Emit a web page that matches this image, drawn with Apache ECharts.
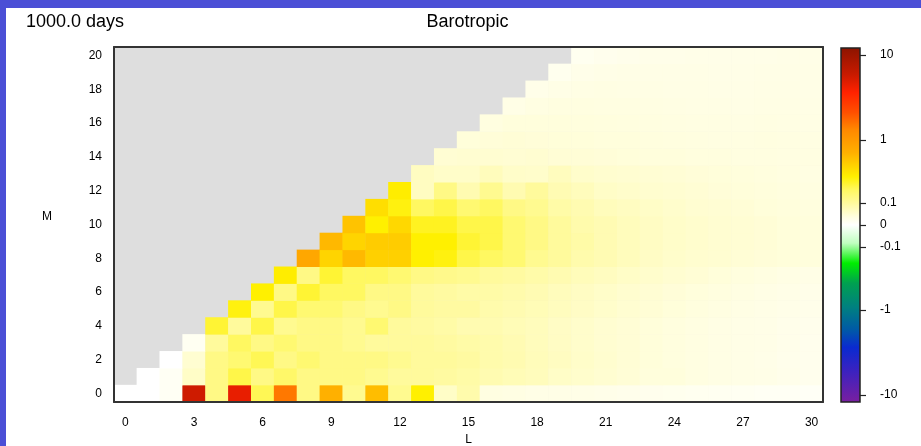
<!DOCTYPE html>
<html>
<head>
<meta charset="utf-8">
<script src="https://cdn.jsdelivr.net/npm/echarts@6/dist/echarts.min.js"></script>
<style>
  html, body { margin: 0; padding: 0; background: #4B4FD6; width: 921px; height: 446px; overflow: hidden; }
  #chart { position: absolute; left: 6px; top: 8px; width: 915px; height: 438px; background: #ffffff; }
</style>
</head>
<body>
<div id="chart"></div>
<script>
// Zonal wavenumber L (columns) and meridional index M (rows)
const lLabels = ['0','1','2','3','4','5','6','7','8','9','10','11','12','13','14','15',
                 '16','17','18','19','20','21','22','23','24','25','26','27','28','29','30'];
const mLabels = ['0','1','2','3','4','5','6','7','8','9','10','11','12','13','14','15',
                 '16','17','18','19','20'];

// Barotropic spectrum: row M lists the values for L = M .. 30 (L < M is undefined)
const barotropicRows = [
  [0, 0, 0.012, 5.5, 0.12, 4.4, 0.17, 1.5, 0.12, 0.62, 0.11, 0.52, 0.11, 0.26, 0.06, 0.085, 0.035, 0.033, 0.03, 0.03, 0.028, 0.026, 0.024, 0.022, 0.02, 0.018, 0.016, 0.015, 0.013, 0.012, 0.01],
  [0, 0.012, 0.06, 0.12, 0.18, 0.12, 0.15, 0.12, 0.12, 0.12, 0.11, 0.1, 0.1, 0.095, 0.09, 0.08, 0.075, 0.07, 0.06, 0.055, 0.05, 0.045, 0.04, 0.04, 0.035, 0.032, 0.03, 0.028, 0.025, 0.022],
  [0, 0.05, 0.12, 0.14, 0.17, 0.12, 0.14, 0.12, 0.12, 0.12, 0.11, 0.1, 0.1, 0.095, 0.085, 0.08, 0.072, 0.065, 0.058, 0.052, 0.046, 0.042, 0.038, 0.035, 0.032, 0.03, 0.027, 0.024, 0.022],
  [0.015, 0.1, 0.16, 0.12, 0.14, 0.12, 0.12, 0.11, 0.1, 0.1, 0.1, 0.095, 0.09, 0.085, 0.078, 0.07, 0.063, 0.056, 0.05, 0.046, 0.042, 0.038, 0.035, 0.032, 0.03, 0.028, 0.025, 0.022],
  [0.2, 0.1, 0.18, 0.11, 0.12, 0.12, 0.11, 0.14, 0.1, 0.095, 0.09, 0.08, 0.08, 0.075, 0.07, 0.062, 0.056, 0.05, 0.046, 0.042, 0.038, 0.035, 0.032, 0.03, 0.028, 0.025, 0.023],
  [0.24, 0.11, 0.18, 0.14, 0.14, 0.12, 0.11, 0.12, 0.1, 0.095, 0.095, 0.085, 0.08, 0.075, 0.068, 0.062, 0.056, 0.05, 0.046, 0.042, 0.038, 0.035, 0.032, 0.03, 0.027, 0.025],
  [0.26, 0.12, 0.2, 0.16, 0.16, 0.12, 0.12, 0.1, 0.095, 0.09, 0.09, 0.085, 0.078, 0.07, 0.064, 0.058, 0.052, 0.048, 0.044, 0.04, 0.037, 0.034, 0.031, 0.028, 0.026],
  [0.27, 0.12, 0.2, 0.16, 0.16, 0.14, 0.12, 0.115, 0.11, 0.1, 0.095, 0.088, 0.08, 0.072, 0.066, 0.06, 0.055, 0.05, 0.046, 0.042, 0.038, 0.035, 0.032, 0.03],
  [0.75, 0.38, 0.55, 0.4, 0.4, 0.26, 0.24, 0.18, 0.16, 0.14, 0.11, 0.1, 0.085, 0.078, 0.07, 0.062, 0.056, 0.052, 0.05, 0.046, 0.044, 0.042, 0.04],
  [0.56, 0.38, 0.42, 0.42, 0.26, 0.26, 0.2, 0.18, 0.14, 0.12, 0.1, 0.09, 0.078, 0.07, 0.064, 0.058, 0.054, 0.05, 0.048, 0.045, 0.042, 0.04],
  [0.48, 0.26, 0.36, 0.22, 0.22, 0.18, 0.18, 0.14, 0.12, 0.1, 0.085, 0.078, 0.07, 0.064, 0.058, 0.054, 0.05, 0.048, 0.045, 0.042, 0.04],
  [0.33, 0.24, 0.16, 0.18, 0.14, 0.16, 0.12, 0.11, 0.09, 0.08, 0.07, 0.065, 0.06, 0.055, 0.05, 0.048, 0.045, 0.042, 0.04, 0.038],
  [0.27, 0.065, 0.12, 0.08, 0.11, 0.08, 0.1, 0.078, 0.07, 0.06, 0.056, 0.052, 0.05, 0.047, 0.044, 0.042, 0.04, 0.038, 0.036],
  [0.065, 0.058, 0.058, 0.07, 0.058, 0.056, 0.068, 0.056, 0.052, 0.05, 0.048, 0.046, 0.044, 0.042, 0.04, 0.038, 0.036, 0.034],
  [0.048, 0.05, 0.05, 0.048, 0.05, 0.046, 0.045, 0.044, 0.042, 0.04, 0.04, 0.038, 0.038, 0.036, 0.036, 0.035, 0.035],
  [0.042, 0.044, 0.045, 0.044, 0.043, 0.042, 0.04, 0.04, 0.038, 0.037, 0.036, 0.035, 0.035, 0.036, 0.035, 0.034],
  [0.036, 0.04, 0.04, 0.04, 0.039, 0.038, 0.037, 0.036, 0.035, 0.034, 0.034, 0.033, 0.034, 0.033, 0.032],
  [0.03, 0.034, 0.036, 0.036, 0.035, 0.035, 0.034, 0.033, 0.032, 0.032, 0.031, 0.032, 0.032, 0.031],
  [0.026, 0.03, 0.032, 0.033, 0.032, 0.032, 0.031, 0.031, 0.03, 0.03, 0.031, 0.031, 0.03],
  [0.02, 0.026, 0.028, 0.029, 0.03, 0.029, 0.029, 0.028, 0.028, 0.029, 0.03, 0.029],
  [0.018, 0.022, 0.024, 0.026, 0.026, 0.027, 0.027, 0.027, 0.027, 0.028, 0.028]
];

// Colour bar ticks
const colorbarTicks = [-10, -1, -0.1, 0, 0.1, 1, 10];
const colorbarTickText = ['-10', '-1', '-0.1', '0', '0.1', '1', '10'];

// Symmetric, piecewise log colour scale: linear inside +-0.1, logarithmic outside
const POS_MAX = 177;
function scalePos(v) {
  const a = Math.abs(v), s = v < 0 ? -1 : 1;
  let d;
  if (a <= 0.1) d = a / 0.1 * 22;
  else if (a <= 1) d = 22 + 63 * Math.log10(a / 0.1);
  else d = 85 + 85 * Math.log10(a);
  return s * Math.min(d, POS_MAX);
}

// Colour ramp on the scaled axis (purple - blue - green - white - yellow - red)
const colourStops = [
  [-177, '#7A1FA0'], [-145, '#3A22C0'], [-122, '#0A2AD0'], [-105, '#0058A8'],
  [-82, '#008080'], [-58, '#00A050'], [-38, '#00EE00'], [-18, '#C0FFC0'],
  [0, '#FFFFFF'], [8, '#FFFEE0'], [22, '#FFFA9C'], [35, '#FFF860'],
  [48, '#FFF000'], [60, '#FFD000'], [72, '#FFB000'], [95, '#FF8800'],
  [112, '#FF5000'], [132, '#FF2200'], [150, '#C81A00'], [177, '#8B1400']
];

function hexToRgb(h) {
  return [parseInt(h.slice(1, 3), 16), parseInt(h.slice(3, 5), 16), parseInt(h.slice(5, 7), 16)];
}
function colourAt(d) {
  for (let i = 0; i < colourStops.length - 1; i++) {
    const [d0, c0] = colourStops[i], [d1, c1] = colourStops[i + 1];
    if (d >= d0 && d <= d1) {
      const t = (d - d0) / (d1 - d0), a = hexToRgb(c0), b = hexToRgb(c1);
      return 'rgb(' + a.map((x, k) => Math.round(x + (b[k] - x) * t)).join(',') + ')';
    }
  }
  return d < 0 ? colourStops[0][1] : colourStops[colourStops.length - 1][1];
}

// Evenly sampled palette for the visualMap
const palette = [];
for (let d = -POS_MAX; d <= POS_MAX; d += 1) palette.push(colourAt(d));

// Heatmap cells: [L, M, scaled value, raw value]
const cells = [];
barotropicRows.forEach((row, m) => {
  row.forEach((v, k) => {
    const l = m + k;
    cells.push([l, m, scalePos(v), v]);
  });
});

const barGradient = new echarts.graphic.LinearGradient(0, 0, 0, 1,
  colourStops.slice().reverse().map(([d, c]) => ({ offset: (POS_MAX - d) / (2 * POS_MAX), color: c })));

const tickPositions = colorbarTicks.map(scalePos);
const FONT = 'Liberation Sans, Arial, Helvetica, sans-serif';
const axisLineStyle = { color: '#333333', width: 2 };

const chart = echarts.init(document.getElementById('chart'), null, { renderer: 'canvas' });
chart.setOption({
  animation: false,
  backgroundColor: '#ffffff',
  textStyle: { fontFamily: FONT, color: '#000' },
  title: [
    { text: '1000.0 days', left: 15, top: 0,
      textStyle: { fontFamily: FONT, fontSize: 18, fontWeight: 'normal', color: '#000' } },
    { text: 'Barotropic', left: 456.5, top: 0, textAlign: 'center',
      textStyle: { fontFamily: FONT, fontSize: 18, fontWeight: 'normal', color: '#000' } }
  ],
  grid: [
    { left: 108, top: 39, width: 709, height: 355, show: true, outerBoundsMode: 'none',
      backgroundColor: '#DEDEDE', borderWidth: 0, containLabel: false },
    { left: 835, top: 40, width: 19, height: 354, show: false, outerBoundsMode: 'none',
      containLabel: false }
  ],
  xAxis: [
    { type: 'category', gridIndex: 0, data: lLabels, position: 'bottom', z: 10,
      name: 'L', nameLocation: 'middle', nameGap: 30,
      nameTextStyle: { fontFamily: FONT, fontSize: 12, color: '#000' },
      axisLine: { show: true, lineStyle: axisLineStyle },
      axisTick: { show: false },
      axisLabel: { interval: 2, margin: 15, fontFamily: FONT, fontSize: 12, color: '#000' },
      splitLine: { show: false } },
    { type: 'category', gridIndex: 0, data: lLabels, position: 'top', z: 10,
      axisLine: { show: true, lineStyle: axisLineStyle },
      axisTick: { show: false }, axisLabel: { show: false }, splitLine: { show: false } },
    { type: 'value', gridIndex: 1, min: 0, max: 1, show: false }
  ],
  yAxis: [
    { type: 'category', gridIndex: 0, data: mLabels, position: 'left', z: 10,
      name: 'M', nameLocation: 'middle', nameGap: 62, nameRotate: 0,
      nameTextStyle: { fontFamily: FONT, fontSize: 12, color: '#000', verticalAlign: 'bottom',
                       padding: [0, 0, 2, 0] },
      axisLine: { show: true, lineStyle: axisLineStyle },
      axisTick: { show: false },
      axisLabel: { interval: 1, margin: 12, fontFamily: FONT, fontSize: 12, color: '#000' },
      splitLine: { show: false } },
    { type: 'category', gridIndex: 0, data: mLabels, position: 'right', z: 10,
      axisLine: { show: true, lineStyle: axisLineStyle },
      axisTick: { show: false }, axisLabel: { show: false }, splitLine: { show: false } },
    { type: 'value', gridIndex: 1, min: -POS_MAX, max: POS_MAX, position: 'right', z: 10,
      axisLine: { show: false, onZero: false },
      axisTick: { show: true, customValues: tickPositions, length: 6, inside: false,
                  lineStyle: { color: '#222', width: 1.2 } },
      axisLabel: { customValues: tickPositions, margin: 20, fontFamily: FONT, fontSize: 12, color: '#000',
                   formatter: (val) => {
                     const i = tickPositions.indexOf(val);
                     return i >= 0 ? colorbarTickText[i] : '';
                   } },
      splitLine: { show: false } }
  ],
  visualMap: {
    type: 'continuous', show: false, seriesIndex: 0, dimension: 2,
    min: -POS_MAX, max: POS_MAX, inRange: { color: palette }
  },
  series: [
    { type: 'heatmap', xAxisIndex: 0, yAxisIndex: 0, data: cells,
      itemStyle: { borderWidth: 0 }, emphasis: { disabled: true } },
    { type: 'custom', xAxisIndex: 2, yAxisIndex: 2, data: [[0, 0]], silent: true, z: 3,
      renderItem: (params, api) => {
        const p0 = api.coord([0, POS_MAX]);
        const p1 = api.coord([1, -POS_MAX]);
        return { type: 'rect',
          shape: { x: p0[0], y: p0[1], width: p1[0] - p0[0], height: p1[1] - p0[1] },
          style: { fill: barGradient, stroke: '#222', lineWidth: 1.5 } };
      } }
  ]
});
</script>
</body>
</html>
